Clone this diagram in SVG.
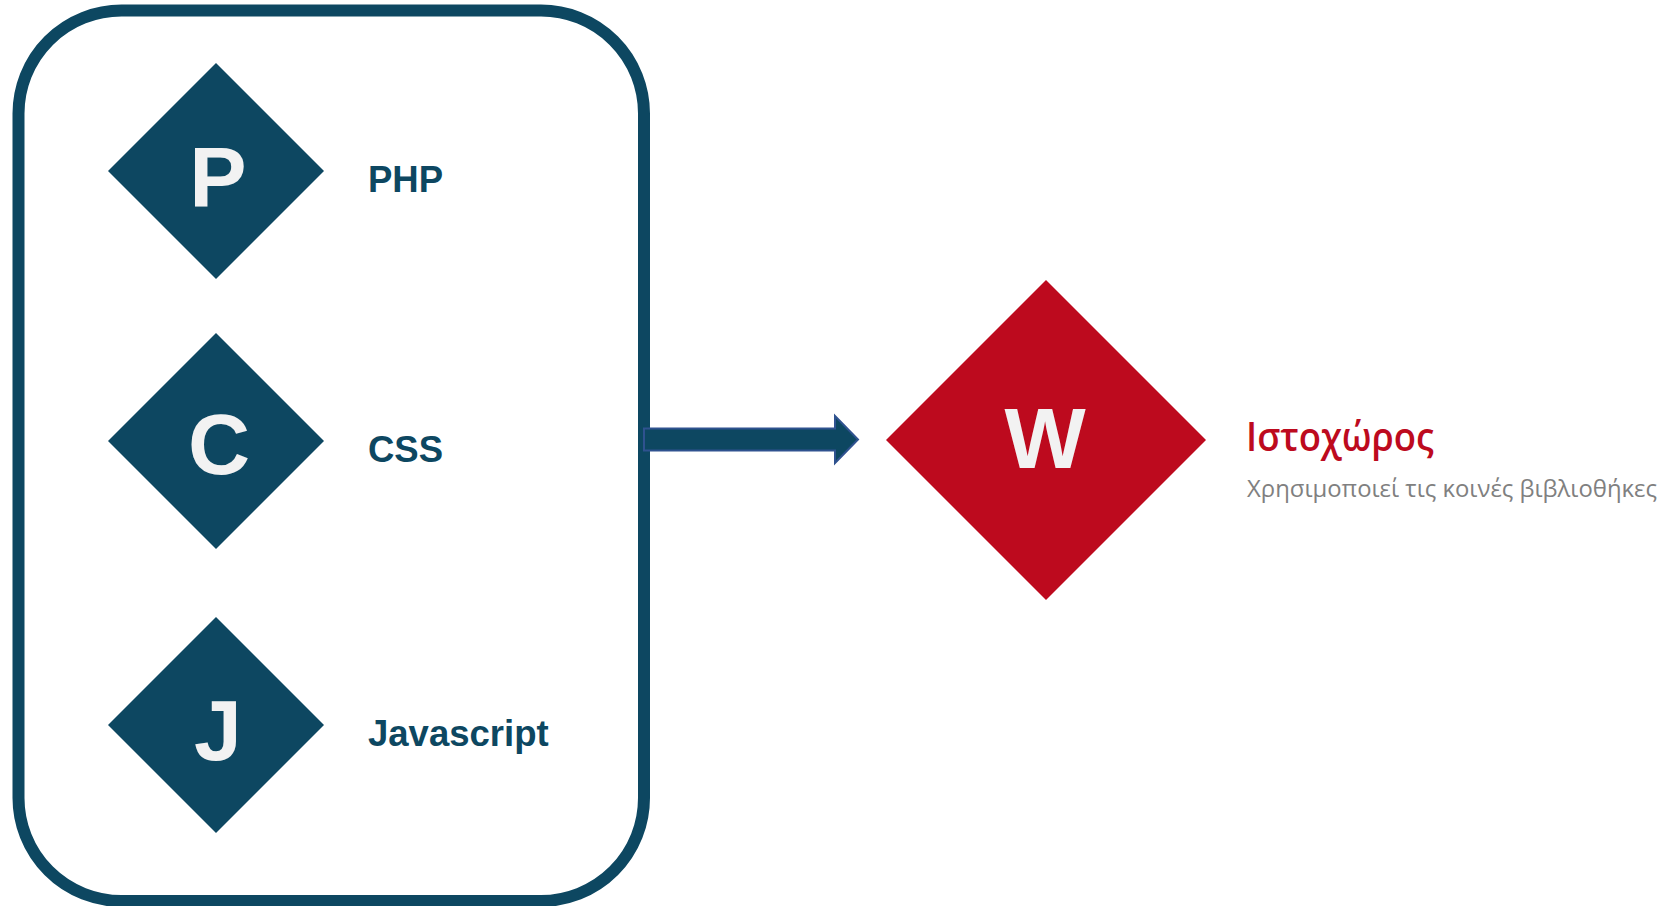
<svg xmlns="http://www.w3.org/2000/svg" width="1671" height="906" viewBox="0 0 1671 906">
<style>
.frame{fill:none;stroke:#0D4761;stroke-width:12}
.dia{fill:#0D4761}
.red{fill:#BD0A1E}
.letter{font-family:"Liberation Sans",Arial,sans-serif;font-weight:bold;font-size:86px;fill:#F2F2F2;text-anchor:middle}
.lbl{font-family:"Liberation Sans",Arial,sans-serif;font-weight:bold;font-size:36.5px;fill:#0D4761}
.title{font-family:"Open Sans","Noto Sans",sans-serif;font-weight:600;font-size:39px;fill:#BD0A1E}
.sub{font-family:"Open Sans","Noto Sans",sans-serif;font-size:23.9px;fill:#808080}
.arrow{fill:#0D4761;stroke:#2F528F;stroke-width:2}
</style>
<rect width="1671" height="906" fill="#FFFFFF"/>
<g id="container">
<rect class="frame" x="18.5" y="10.5" width="625.5" height="890.5" rx="103" ry="103"/>
</g>
<g id="node-php">
<polygon class="dia" points="216,63 324,171 216,279 108,171"/>
<text class="letter" x="218" y="207">P</text>
<text class="lbl" x="368" y="192">PHP</text>
</g>
<g id="node-css">
<polygon class="dia" points="216,333 324,441 216,549 108,441"/>
<text class="letter" x="219" y="474">C</text>
<text class="lbl" x="368" y="462">CSS</text>
</g>
<g id="node-js">
<polygon class="dia" points="216,617 324,725 216,833 108,725"/>
<text class="letter" x="218" y="760">J</text>
<text class="lbl" x="368" y="746">Javascript</text>
</g>
<g id="connectors">
<polygon class="arrow" points="644,428.5 835,428.5 835,416 858,439.5 835,463 835,450.5 644,450.5"/>
</g>
<g id="node-website">
<polygon class="red" points="1046,280 1206,440 1046,600 886,440"/>
<text class="letter" x="1045" y="468">W</text>
<text class="title" x="1246" y="451" textLength="188" lengthAdjust="spacingAndGlyphs">Ιστοχώρος</text>
<text class="sub" x="1247" y="497" textLength="410" lengthAdjust="spacingAndGlyphs">Χρησιμοποιεί τις κοινές βιβλιοθήκες</text>
</g>
</svg>
